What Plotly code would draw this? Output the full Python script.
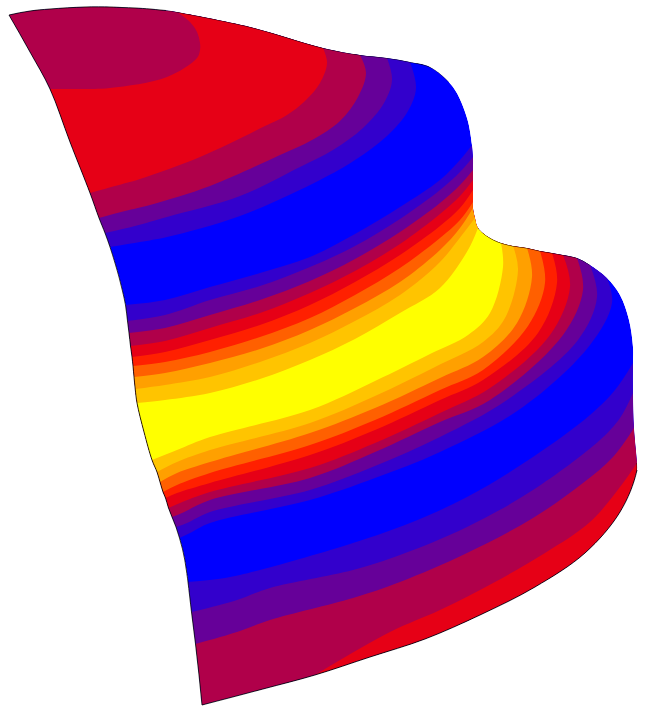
import plotly.graph_objects as go

band_colors = ["#0000ff", "#3300cc", "#660099", "#b0004a", "#e60016",
               "#ff2000", "#ff6000", "#ffa000", "#ffc400", "#ffff00"]

# Each row: (field value per node, node positions along the row)
rows = [
 ([3]*10,   [(9,15),(30,11),(50,9),(85,7),(110,7),(122,7.5),(135,8),(150,9),(160,10),(166,10.5)]),
 ([3]*10,   [(30,52),(50,51),(70,50),(120,45),(150,38),(158,34.5),(165,30),(170,22),(171,15),(171.5,11)]),
 ([3.5]*10, [(50,89),(80,89),(110,88),(167,77),(197,58),(200,50),(200,43),(197,32),(190,22),(177,12)]),
 ([4]*10,   [(70,142),(100,136),(130,130),(195,112),(240,88),(253,77),(262,65),(265,50),(260,37),(250,27)]),
 ([3.5]*10, [(90,193),(115,186),(140,179),(200,157),(265,126),(287,115),(305,101),(320,83),(327,63),(323,48)]),
 ([2.5]*10, [(99,218),(125,211),(150,205),(210,186),(280,155),(312,140),(340,121),(358,97),(366,73),(360,55)]),
 ([1.5]*10, [(105,233),(135,226),(167,217),(240,196),(300,167),(333,150),(363,128),(384,103),(392,80),(387,58)]),
 ([0.5]*10, [(110,247),(140,242),(167,237),(240,216),(320,180),(355,160),(387,136),(408,111),(416,88),(410,62)]),
 ([0]*10,   [(115,263),(148,257),(180,252),(250,234),(320,205),(358,186),(392,165),(418,135),(430,100),(430,67)]),
 ([0]*10,   [(119,277),(155,271),(190,265),(255,248),(318,222),(358,202),(395,180),(428,150),(446,115),(453,87)]),
 ([0]*10,   [(122.5,291),(160,283),(200,275),(258,262),(314,240),(358,218),(398,195),(435,165),(458,140),(467,118)]),
 ([0.5]*10, [(125.5,305),(165,300),(210,287),(260,273),(310,257),(355,234),(400,207),(440,180),(460,160),(472,145)]),
 ([1.5]*10, [(127.5,321),(165,315),(210,300),(260,286),(310,267),(355,246),(400,219),(440,190),(460,172),(473,157)]),
 ([2.5]*10, [(129,333),(165,328),(210,315),(260,300),(310,281),(355,259),(400,232),(440,203),(460,185),(473,170)]),
 ([3.5]*10, [(130.5,346),(165,341),(210,328),(260,313),(310,293),(355,271),(400,244),(440,214),(460,196),(473,180)]),
 ([4.5]*10, [(132,357),(165,352),(210,340),(260,325),(310,305),(355,282),(400,255),(440,226),(460,208),(473,190)]),
 ([5.5]*10, [(133,366),(165,362),(210,352),(260,337),(310,318),(355,295),(400,268),(440,238),(460,220),(473,202)]),
 ([6.5]*10, [(134,377),(165,373),(210,363),(260,349),(310,330),(355,308),(400,282),(440,250),(460,228),(473,208)]),
 ([7.5]*10, [(135.2,389),(165,385),(210,377),(260,362),(310,343),(355,321),(400,295),(440,262),(462,235),(475,218)]),
 ([8.5]*10, [(137,403),(165,400),(210,393),(260,379),(310,360),(355,339),(400,313),(440,288),(468,250),(478,228)]),
 ([9.2]*10, [(144,432),(171,426),(210,415),(285,394),(342,371),(392,347),(434,324),(465,300),(485,258),(490,238)]),
 ([8.5]*10, [(152,460),(177,450),(210,437),(310,410),(375,381),(430,354),(468,335),(490,313),(503,267),(501,243)]),
 ([7.5]*10, [(157,472),(177,462),(210,450),(310,423),(375,396),(435,367),(483,342),(505,318),(518,270),(513,246)]),
 ([6.5]*10, [(160,482),(177,473),(210,462),(310,433),(375,408),(440,378),(483,357),(517,323),(532,277),(527,248)]),
 ([5.5]*10, [(163,492),(177,485),(210,473),(310,445),(375,420),(440,390),(483,370),(528,326),(545,283),(540,251)]),
 ([4.5]*10, [(165.5,498),(177,493),(210,483),(310,455),(375,430),(440,400),(483,380),(538,333),(557,283),(552,253)]),
 ([3.5]*10, [(168.5,508),(180,503),(210,492),(310,468),(375,443),(440,413),(490,388),(550,335),(570,287),(563,255)]),
 ([2.5]*10, [(172,517),(182,513),(210,500),(310,478),(375,452),(440,422),(490,400),(563,335),(583,290),(577,258)]),
 ([1.5]*10, [(176,527),(187,523),(210,512),(310,490),(375,466),(440,437),(507,400),(578,340),(597,297),(590,265)]),
 ([0.5]*10, [(179.5,538),(190,533),(210,523),(310,500),(375,478),(440,452),(523,407),(590,345),(612,303),(607,278)]),
 ([0]*10,   [(182.5,549),(199,544),(222,535),(321,511),(384,489),(447,463),(525,420),(590,362),(613,325),(620,295)]),
 ([0]*10,   [(184.8,560),(207,555),(235,546),(331,521),(392,500),(453,474),(528,432),(590,380),(614,347),(629,320)]),
 ([0]*10,   [(186.5,571),(216,566),(248,558),(342,532),(401,512),(460,486),(530,445),(590,397),(615,368),(633,347)]),
 ([0.5]*10, [(188,582),(225,578),(260,570),(353,543),(410,523),(467,497),(533,457),(590,415),(615,390),(633,363)]),
 ([1.5]*10, [(191.5,612),(237,600),(270,588),(353,570),(400,555),(467,527),(533,490),(600,440),(620,418),(633,393)]),
 ([2.5]*10, [(195.5,644),(237,632),(270,620),(353,598),(400,582),(467,553),(533,518),(583,483),(613,457),(634,428)]),
 ([3,3,3.5,3.5,3.5,3.5,3.5,3.5,3.5,3.5], [(199,675),(265,657),(337,657),(390,632),(440,610),(495,582),(545,553),(590,522),(620,487),(637,463)]),
 ([3,3,3.5,4,4,4,4,4,4,4],               [(202,705),(263,689),(315,675),(370,657),(425,639),(480,615),(535,587),(585,553),(620,512),(637,470)]),
]

# Stretches of the far edge that carry the black outline (grid row numbers)
outlined_rows = [[0, 1, 2, 3, 4, 5, 6, 7, 8, 8.5, 8.8],
                 [19, 19.5, 20, 20.5, 21, 22, 23, 24, 25, 26, 27, 27.5, 28],
                 [36, 36.5, 37]]

grid_z = [r[0] for r in rows]
grid_x = [[p[0] for p in r[1]] for r in rows]
grid_y = [[p[1] for p in r[1]] for r in rows]
a_vals = list(range(len(grid_x[0])))
b_vals = list(range(len(grid_x)))

n = len(band_colors)
scale = []
for i, c in enumerate(band_colors):
    scale += [[i / n, c], [(i + 1) / n, c]]

common = dict(startline=True, startlinecolor="black", startlinewidth=0.8,
              endlinecolor="black", endlinewidth=0.8, showgrid=False, minorgridcount=0,
              showticklabels="none", smoothing=1)

fig = go.Figure()
fig.add_trace(go.Carpet(a=a_vals, b=b_vals, x=grid_x, y=grid_y, carpet="c1",
                        aaxis=dict(common, endline=False), baxis=dict(common, endline=True)))
fig.add_trace(go.Contourcarpet(a=a_vals, b=b_vals, z=grid_z, carpet="c1",
                               autocontour=False, zmin=-0.5, zmax=9.5,
                               contours=dict(start=0.5, end=8.5, size=1, coloring="fill", showlines=False),
                               line=dict(width=0), colorscale=scale, showscale=False))
for seg in outlined_rows:
    fig.add_trace(go.Scattercarpet(a=[a_vals[-1]] * len(seg), b=seg, carpet="c1", mode="lines",
                                   line=dict(color="black", width=0.8, shape="spline"), hoverinfo="skip"))
fig.update_layout(width=651, height=717, margin=dict(l=0, r=0, t=0, b=0),
                  paper_bgcolor="white", plot_bgcolor="white", showlegend=False,
                  xaxis=dict(range=[0, 651], visible=False),
                  yaxis=dict(range=[717, 0], visible=False))
fig.write_html("out.html", config={"displayModeBar": False},
               post_script="document.body.style.margin='0';document.body.style.overflow='hidden';")
